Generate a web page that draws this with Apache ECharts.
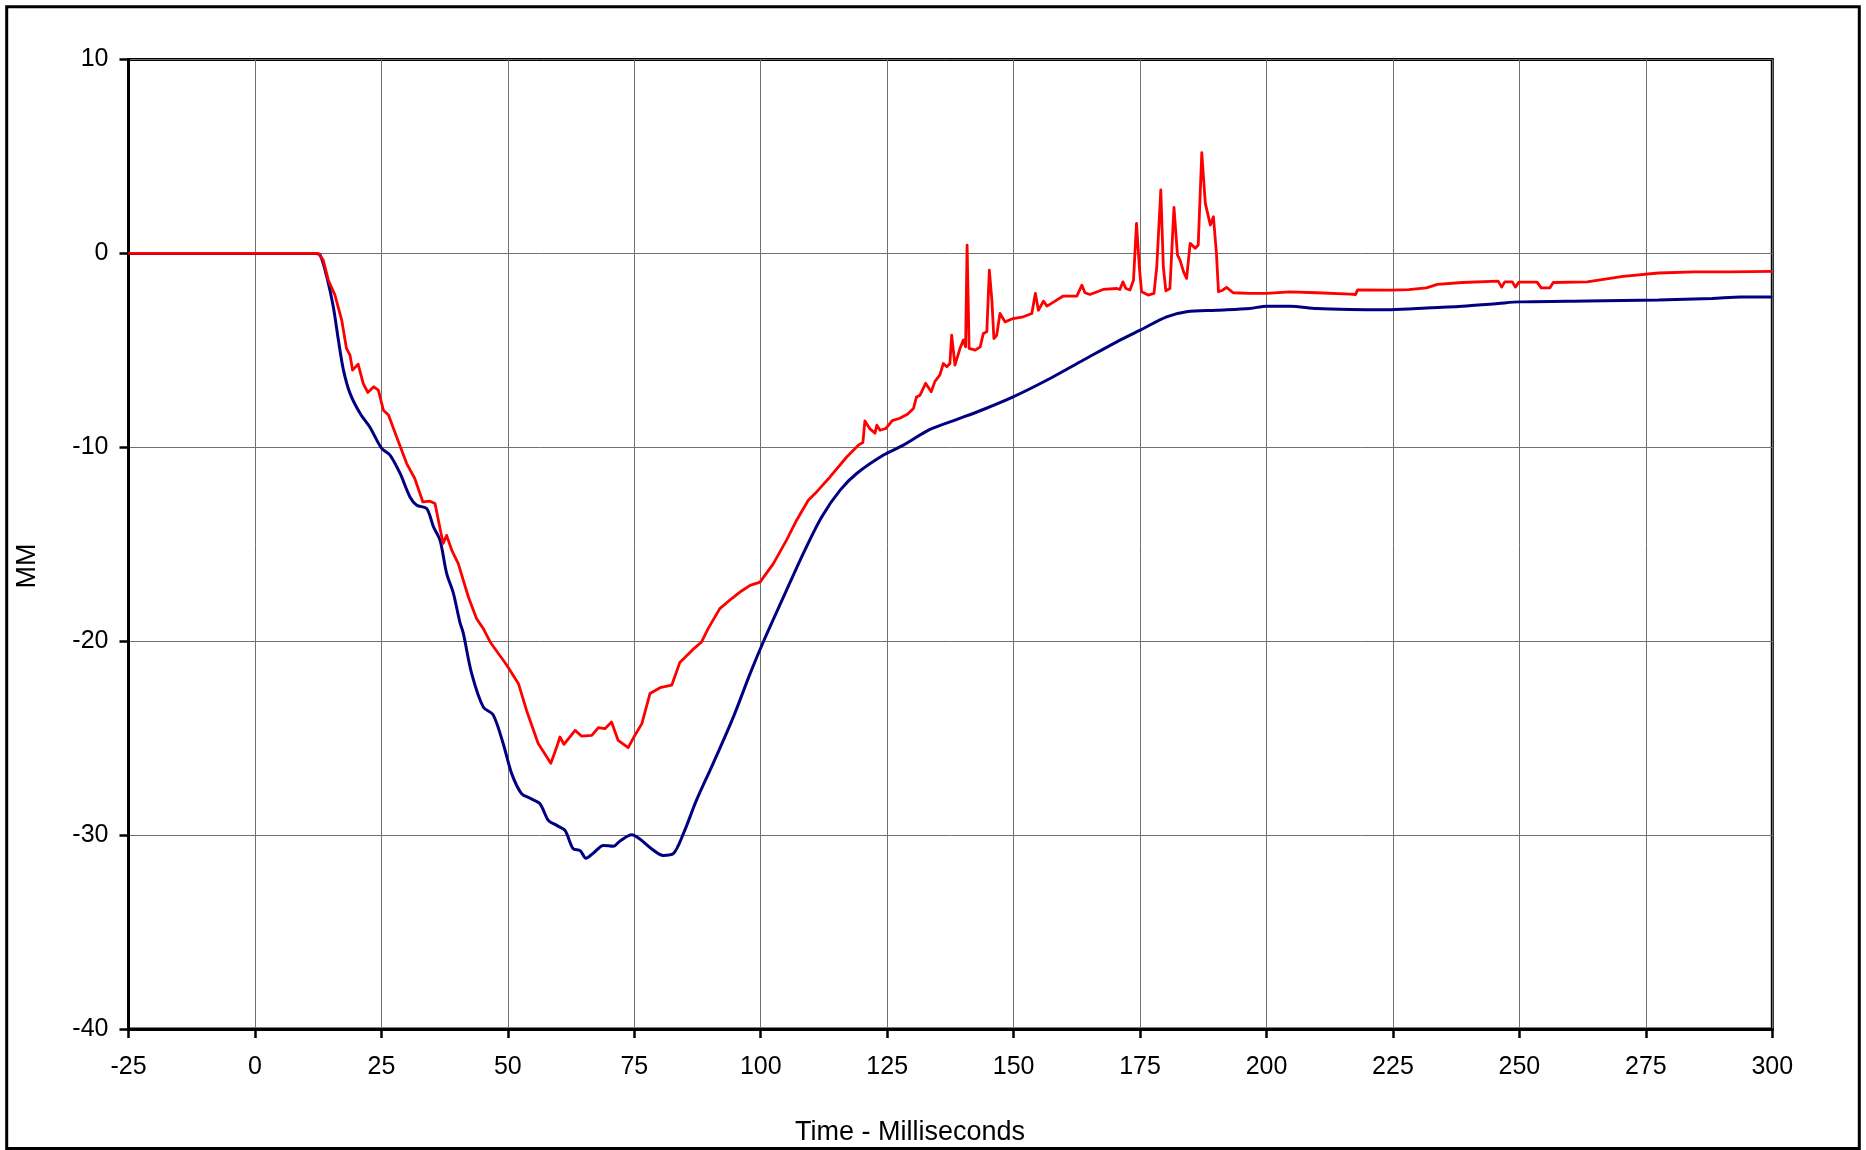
<!DOCTYPE html>
<html>
<head>
<meta charset="utf-8">
<script src="https://cdn.jsdelivr.net/npm/echarts@6/dist/echarts.min.js"></script>
<style>
html,body{margin:0;padding:0;background:#fff;}
#chart{width:1866px;height:1150px;}
</style>
</head>
<body>
<div id="chart"></div>
<script>
// ---- Data ----
const xTicks = [-25, 0, 25, 50, 75, 100, 125, 150, 175, 200, 225, 250, 275, 300];
const yTicks = [-40, -30, -20, -10, 0, 10];

const blueTime = [-25, 12, 12.9, 14.2, 15.5, 16.5, 17.5, 18.8, 20.8, 22.7, 25.06, 26.7, 28.7, 30.65, 32, 33.96, 35.3, 36.6, 37.9, 39.2, 40.5, 41.2, 42.85, 45.15, 47.1, 49.1, 50.76, 52.7, 54.4, 56.35, 58, 59.66, 61.3, 62.9, 64.3, 65.45, 66.9, 68.9, 70.85, 72.2, 74.5, 76.1, 78.4, 80.7, 82.7, 84.7, 87.3, 90.6, 94.6, 97.9, 100.5, 104.5, 108.4, 112.05, 115.7, 118.97, 124.2, 128.2, 133.46, 138.7, 144, 149.9, 157.2, 163.8, 170.4, 175, 180.25, 184.2, 190.1, 196.7, 200, 204.6, 209.9, 216.5, 224.6, 231.6, 238.7, 245.8, 250, 263.4, 277.5, 288.1, 293.8, 300];
const blueMM = [0, 0, -0.09, -1.2, -2.76, -4.47, -6.02, -7.22, -8.26, -8.95, -10.06, -10.4, -11.35, -12.56, -12.99, -13.16, -14.1, -14.8, -16.5, -17.5, -19.0, -19.6, -21.67, -23.4, -23.8, -25.3, -26.83, -27.86, -28.1, -28.38, -29.24, -29.5, -29.76, -30.7, -30.8, -31.2, -30.93, -30.53, -30.58, -30.3, -29.98, -30.2, -30.7, -31.05, -30.96, -29.93, -28.2, -26.3, -23.9, -21.67, -20.04, -17.72, -15.48, -13.59, -12.21, -11.35, -10.41, -9.89, -9.08, -8.57, -8.05, -7.4, -6.45, -5.5, -4.56, -3.96, -3.27, -3.01, -2.93, -2.84, -2.72, -2.72, -2.84, -2.89, -2.9, -2.82, -2.72, -2.58, -2.5, -2.45, -2.4, -2.33, -2.25, -2.25];

const redTime = [-25, 12.5, 13.5, 14.5, 15.8, 17.15, 18.1, 18.8, 19.3, 20.4, 21.4, 22.3, 23.5, 24.4, 25.4, 26.4, 28, 30, 31.6, 33.2, 34.6, 35.6, 37.2, 37.9, 38.9, 40.2, 42.2, 43.8, 45.15, 46.5, 49.8, 52.1, 53.7, 56.0, 58.5, 59.66, 60.3, 61.1, 63.3, 64.6, 66.6, 67.9, 69.2, 70.5, 71.8, 73.8, 75.1, 76.5, 78.1, 80.1, 82.4, 84.0, 86.5, 88.3, 89.6, 91.9, 94.26, 96.2, 97.9, 99.86, 102.5, 105.1, 107.1, 109.4, 111.05, 113.7, 117.0, 119.3, 120.2, 120.6, 121.6, 122.6, 122.95, 123.6, 124.75, 126.0, 127.5, 129.0, 130.2, 130.8, 131.5, 132.6, 133.7, 134.45, 135.4, 136.1, 136.8, 137.4, 137.75, 138.4, 139.4, 140.05, 140.5, 140.8, 141.2, 142.4, 143.4, 144.0, 144.7, 145.2, 145.7, 146.1, 146.65, 147.3, 148.3, 149.9, 151.9, 153.6, 154.3, 154.9, 155.9, 156.6, 158.5, 159.8, 162.5, 163.5, 164.1, 165.1, 167.7, 170.4, 171.0, 171.6, 172.2, 173.0, 173.7, 174.3, 174.85, 175.3, 176.6, 177.75, 178.3, 179.1, 179.6, 180.1, 180.9, 181.7, 182.4, 182.9, 183.6, 184.2, 184.9, 185.9, 186.5, 187.2, 187.9, 188.9, 189.5, 190.1, 190.5, 191.3, 192.1, 193.4, 196.7, 200, 204.6, 209.9, 216.5, 217.6, 218.0, 224.6, 228.1, 231.6, 233.8, 238.7, 245.8, 246.5, 247.1, 248.6, 249.2, 249.9, 253.5, 254.3, 256.0, 256.7, 263.4, 270.5, 277.5, 284.6, 291.7, 300];
const redMM = [0, 0, -0.35, -1.37, -2.14, -3.44, -4.9, -5.25, -6.02, -5.71, -6.7, -7.17, -6.88, -7.05, -8.09, -8.34, -9.46, -10.84, -11.61, -12.82, -12.78, -12.9, -14.96, -14.54, -15.3, -16.0, -17.72, -18.83, -19.35, -20.04, -21.24, -22.19, -23.57, -25.28, -26.3, -25.46, -24.94, -25.32, -24.6, -24.9, -24.86, -24.46, -24.51, -24.17, -25.11, -25.49, -24.86, -24.25, -22.7, -22.4, -22.27, -21.1, -20.45, -20.04, -19.35, -18.32, -17.8, -17.41, -17.12, -16.95, -16.0, -14.79, -13.76, -12.73, -12.3, -11.53, -10.5, -9.89, -9.75, -8.64, -9.05, -9.27, -8.86, -9.12, -9.03, -8.62, -8.5, -8.3, -8.0, -7.4, -7.31, -6.7, -7.14, -6.6, -6.28, -5.68, -5.85, -5.68, -4.22, -5.76, -4.9, -4.47, -4.82, 0.43, -4.9, -4.99, -4.82, -4.13, -4.04, -0.86, -2.41, -4.39, -4.22, -3.1, -3.53, -3.36, -3.27, -3.1, -2.06, -2.93, -2.46, -2.72, -2.41, -2.2, -2.2, -1.64, -2.03, -2.12, -1.86, -1.81, -1.86, -1.47, -1.81, -1.89, -1.38, 1.55, -0.69, -1.98, -2.15, -2.06, -0.69, 3.27, -0.69, -1.93, -1.81, 2.37, -0.09, -0.35, -0.95, -1.29, 0.52, 0.26, 0.43, 5.19, 2.58, 1.46, 1.89, 0, -1.98, -1.9, -1.75, -2.03, -2.06, -2.06, -1.98, -2.03, -2.1, -2.12, -1.88, -1.89, -1.87, -1.78, -1.6, -1.5, -1.43, -1.74, -1.47, -1.47, -1.74, -1.48, -1.48, -1.78, -1.78, -1.5, -1.47, -1.19, -1.01, -0.95, -0.95, -0.93];

const blueData = blueTime.map((t, i) => [t, blueMM[i]]);
const redData = redTime.map((t, i) => [t, redMM[i]]);

const FONT = '"Liberation Sans", Arial, sans-serif';

const chart = echarts.init(document.getElementById('chart'), null, {renderer: 'canvas'});
chart.setOption({
  backgroundColor: '#ffffff',
  animation: false,
  grid: {
    left: 128.5, top: 59.5, right: 93.7, bottom: 121,
    show: true, borderColor: '#000', borderWidth: 3, backgroundColor: 'transparent'
  },
  xAxis: {
    type: 'value',
    min: xTicks[0], max: xTicks[xTicks.length - 1], interval: 25,
    axisLine: {show: true, onZero: false, lineStyle: {color: '#000', width: 3}},
    axisTick: {show: true, inside: false, length: 9, lineStyle: {color: '#000', width: 2.5}},
    axisLabel: {color: '#000', fontSize: 25, fontFamily: FONT, margin: 26},
    splitLine: {show: true, lineStyle: {color: '#707070', width: 1}}
  },
  yAxis: {
    type: 'value',
    min: yTicks[0], max: yTicks[yTicks.length - 1], interval: 10,
    axisLine: {show: true, onZero: false, lineStyle: {color: '#000', width: 3}},
    axisTick: {show: true, inside: false, length: 9, lineStyle: {color: '#000', width: 2.5}},
    axisLabel: {color: '#000', fontSize: 25, fontFamily: FONT, margin: 20},
    splitLine: {show: true, lineStyle: {color: '#707070', width: 1}}
  },
  graphic: [
    {type: 'rect', shape: {x: 6.7, y: 6.7, width: 1852.6, height: 1141.8},
     style: {fill: 'none', stroke: '#000', lineWidth: 3}, silent: true, z: 100},
    {type: 'text', x: 910, y: 1133,
     style: {text: 'Time - Milliseconds', fill: '#000', font: '27px ' + FONT, textAlign: 'center', textVerticalAlign: 'middle'}},
    {type: 'text', x: 27.5, y: 566, rotation: Math.PI / 2,
     style: {text: 'MM', fill: '#000', font: '27px ' + FONT, textAlign: 'center', textVerticalAlign: 'middle'}}
  ],
  series: [
    {name: 'Blue', type: 'line', data: blueData, showSymbol: false, symbol: 'none', smooth: 0.3,
     lineStyle: {color: '#000080', width: 3}, z: 3},
    {name: 'Red', type: 'line', data: redData, showSymbol: false, symbol: 'none',
     lineStyle: {color: '#ff0000', width: 2.8, join: 'round'}, z: 4}
  ]
});
</script>
</body>
</html>
